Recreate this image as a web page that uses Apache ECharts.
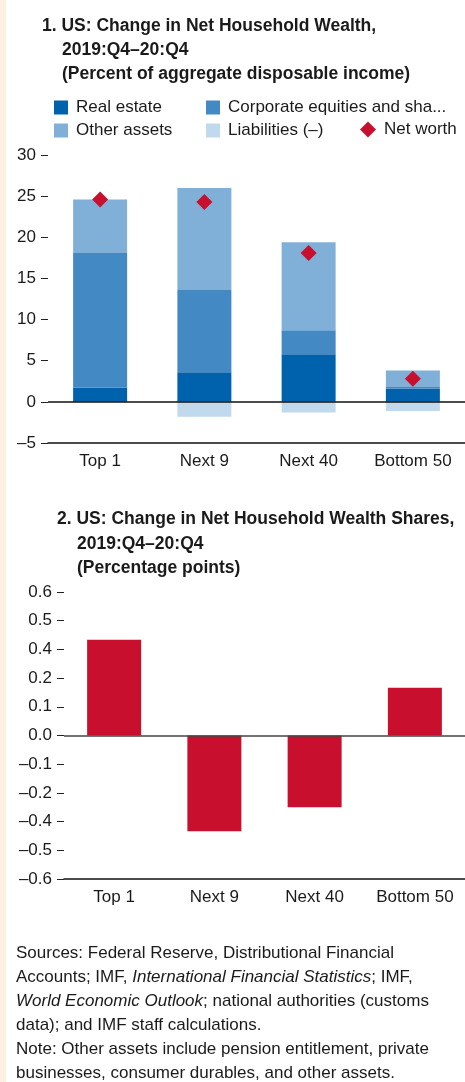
<!DOCTYPE html>
<html>
<head>
<meta charset="utf-8">
<script src="https://cdn.jsdelivr.net/npm/echarts@6/dist/echarts.min.js"></script>
<style>
  html, body { margin: 0; padding: 0; background: #fff; }
  #chart { width: 465px; height: 1082px; }
</style>
</head>
<body>
<div id="chart"></div>
<script>
// panel 1: percent of aggregate disposable income
var categories = ['Top 1', 'Next 9', 'Next 40', 'Bottom 50']
var realEstate = [1.7, 3.6, 5.8, 1.6]
var corporateEquities = [16.4, 10.0, 2.9, 0.2]
var otherAssets = [6.5, 12.4, 10.7, 2.0]
var liabilities = [0, -1.8, -1.3, -1.1]
var netWorth = [24.6, 24.3, 18.1, 2.8]
// panel 2: percentage points
var shareChange = [0.40, -0.40, -0.30, 0.20]

var sans = '"Liberation Sans", Arial, sans-serif'
var ink = '#1a1a1a'
var colors = {
  realEstate: '#0061ad',
  corporate: '#4389c4',
  other: '#80b0d8',
  liabilities: '#c1d9ec',
  red: '#c8102e'
}

function dash(v, digits) {
  var s = Math.abs(v).toFixed(digits)
  return (v < -1e-9 ? '\u2013' : '') + s
}

function textLine(x, y, text, opts) {
  opts = opts || {}
  return {
    type: 'text',
    left: x,
    top: y,
    silent: true,
    style: {
      text: text,
      fill: ink,
      font: opts.font || ('17px ' + sans),
      rich: opts.rich
    }
  }
}

var chart = echarts.init(document.getElementById('chart'))

var titleFont = 'bold 17.5px ' + sans
var italic = { i: { fontStyle: 'italic', fontFamily: sans, fontSize: 17, fill: ink } }

var graphics = [
  { type: 'rect', shape: { x: 0, y: 0, width: 6, height: 1082 }, style: { fill: '#fdf0e3' }, silent: true },
  textLine(42, 17, '1. US: Change in Net Household Wealth,', { font: titleFont }),
  textLine(62, 41, '2019:Q4\u201320:Q4', { font: titleFont }),
  textLine(62, 65, '(Percent of aggregate disposable income)', { font: titleFont }),
  textLine(57, 510, '2. US: Change in Net Household Wealth Shares,', { font: titleFont }),
  textLine(77, 535, '2019:Q4\u201320:Q4', { font: titleFont }),
  textLine(77, 559, '(Percentage points)', { font: titleFont })
]

var footer = [
  'Sources: Federal Reserve, Distributional Financial',
  'Accounts; IMF, {i|International Financial Statistics}; IMF,',
  '{i|World Economic Outlook}; national authorities (customs',
  'data); and IMF staff calculations.',
  'Note: Other assets include pension entitlement, private',
  'businesses, consumer durables, and other assets.'
]
footer.forEach(function (line, i) {
  graphics.push(textLine(16, 945 + i * 24, line, { rich: italic }))
})

function legendItem(name, left, top, icon, size, width) {
  return {
    data: [name],
    left: left,
    top: top,
    padding: 0,
    icon: icon || 'rect',
    itemWidth: size || 14,
    itemHeight: size || 14,
    selectedMode: false,
    textStyle: {
      fontFamily: sans,
      fontSize: 17,
      color: ink,
      padding: [0, 0, 0, 3],
      width: width,
      overflow: width ? 'truncate' : 'none',
      ellipsis: '...'
    }
  }
}

var axisText = { fontFamily: sans, fontSize: 17, color: ink }

var option = {
  animation: false,
  backgroundColor: '#fff',
  graphic: graphics,
  legend: [
    legendItem('Real estate', 54, 99),
    legendItem('Corporate equities and shares', 206, 99, 'rect', 14, 226),
    legendItem('Other assets', 54, 122),
    legendItem('Liabilities (\u2013)', 206, 122),
    legendItem('Net worth', 360, 121, 'diamond', 16)
  ],
  grid: [
    { left: 48, right: 0, top: 155, height: 288 },
    { left: 64, right: 0, top: 592, height: 287 }
  ],
  xAxis: [
    {
      type: 'category',
      gridIndex: 0,
      data: categories,
      axisLine: { onZero: false, lineStyle: { color: '#111', width: 1.5 } },
      axisTick: { inside: true, length: 6, lineStyle: { color: '#111', width: 1.2 } },
      axisLabel: Object.assign({ interval: 0, margin: 10 }, axisText)
    },
    {
      type: 'category',
      gridIndex: 1,
      data: categories,
      axisLine: { onZero: false, lineStyle: { color: '#111', width: 1.5 } },
      axisTick: { inside: true, length: 6, lineStyle: { color: '#111', width: 1.2 } },
      axisLabel: Object.assign({ interval: 0, margin: 10 }, axisText)
    }
  ],
  yAxis: [
    {
      type: 'value',
      gridIndex: 0,
      min: -5,
      max: 30,
      interval: 5,
      axisLine: { show: false },
      axisTick: { show: true, length: 7, lineStyle: { color: '#222' } },
      splitLine: { show: false },
      axisLabel: Object.assign({
        margin: 12,
        formatter: function (v) { return dash(v, 0) }
      }, axisText)
    },
    {
      type: 'value',
      gridIndex: 1,
      min: -0.6,
      max: 0.6,
      interval: 0.12,
      axisLine: { show: false },
      axisTick: { show: true, length: 7, lineStyle: { color: '#222' } },
      splitLine: { show: false },
      axisLabel: Object.assign({
        margin: 12,
        formatter: function (v) { return dash(v, 1) }
      }, axisText)
    }
  ],
  series: [
    {
      name: 'Real estate',
      type: 'bar',
      stack: 'wealth',
      barWidth: 54,
      itemStyle: { color: colors.realEstate },
      data: realEstate
    },
    {
      name: 'Corporate equities and shares',
      type: 'bar',
      stack: 'wealth',
      barWidth: 54,
      itemStyle: { color: colors.corporate },
      data: corporateEquities
    },
    {
      name: 'Other assets',
      type: 'bar',
      stack: 'wealth',
      barWidth: 54,
      itemStyle: { color: colors.other },
      data: otherAssets
    },
    {
      name: 'Liabilities (\u2013)',
      type: 'bar',
      stack: 'wealth',
      barWidth: 54,
      itemStyle: { color: colors.liabilities },
      data: liabilities,
      markLine: {
        silent: true,
        symbol: 'none',
        label: { show: false },
        lineStyle: { color: '#111', width: 1.5, type: 'solid' },
        data: [{ yAxis: 0 }]
      }
    },
    {
      name: 'Net worth',
      type: 'scatter',
      symbol: 'diamond',
      symbolSize: 16,
      itemStyle: { color: colors.red, opacity: 1 },
      z: 5,
      data: netWorth
    },
    {
      name: 'Share change',
      type: 'bar',
      xAxisIndex: 1,
      yAxisIndex: 1,
      barWidth: 54,
      itemStyle: { color: colors.red },
      data: shareChange,
      markLine: {
        silent: true,
        symbol: 'none',
        label: { show: false },
        lineStyle: { color: '#444', width: 1.5, type: 'solid' },
        data: [{ yAxis: 0 }]
      }
    }
  ]
}

chart.setOption(option)
</script>
</body>
</html>
